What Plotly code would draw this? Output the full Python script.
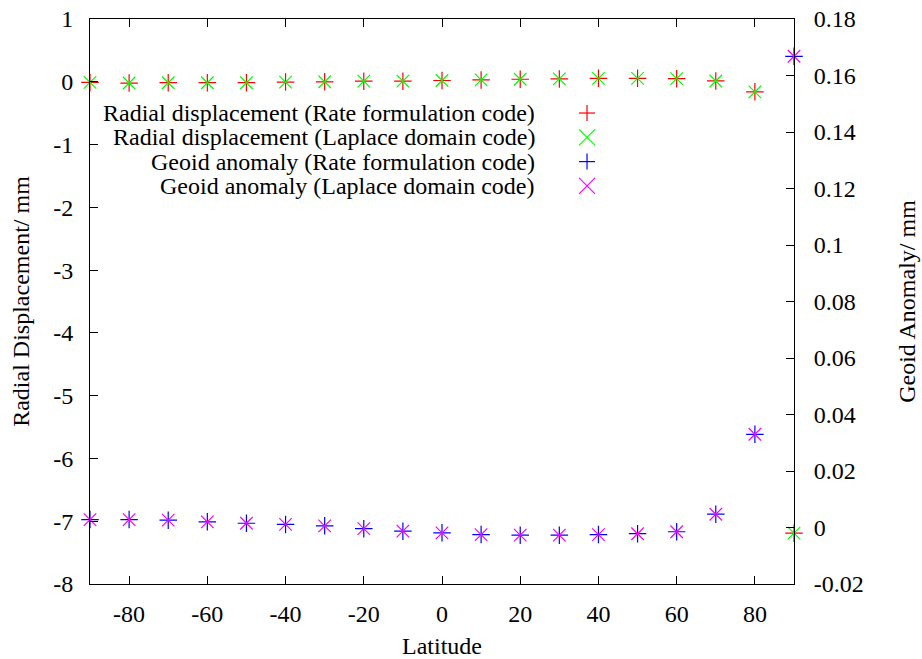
import plotly.graph_objects as go

# Latitude of each sample (degrees)
latitude = [-90, -80, -70, -60, -50, -40, -30, -20, -10, 0,
            10, 20, 30, 40, 50, 60, 70, 80, 90]

# Radial displacement (mm), left axis
radial_rate = [-0.01, -0.02, -0.015, -0.015, -0.015, -0.005, 0.0, 0.01, 0.01, 0.02,
               0.03, 0.04, 0.045, 0.055, 0.055, 0.05, 0.013, -0.16, -7.19]
radial_laplace = [-0.01, -0.02, -0.015, -0.015, -0.015, -0.005, 0.0, 0.01, 0.01, 0.02,
                  0.03, 0.04, 0.045, 0.055, 0.055, 0.05, 0.013, -0.16, -7.19]

# Geoid anomaly (mm), right axis
geoid_rate = [0.0028, 0.0028, 0.0026, 0.0020, 0.0015, 0.0011, 0.0006, -0.0004, -0.0013, -0.0019,
              -0.0025, -0.0027, -0.0027, -0.0025, -0.0022, -0.0015, 0.0047, 0.033, 0.1668]
geoid_laplace = [0.0028, 0.0028, 0.0026, 0.0020, 0.0015, 0.0011, 0.0006, -0.0004, -0.0013, -0.0019,
                 -0.0025, -0.0027, -0.0027, -0.0025, -0.0022, -0.0015, 0.0047, 0.033, 0.1668]

# Tick labels
x_ticks = [-80, -60, -40, -20, 0, 20, 40, 60, 80]
x_labels = ["-80", "-60", "-40", "-20", "0", "20", "40", "60", "80"]
y_ticks = [1, 0, -1, -2, -3, -4, -5, -6, -7, -8]
y_labels = ["1", "0", "-1", "-2", "-3", "-4", "-5", "-6", "-7", "-8"]
y2_ticks = [0.18, 0.16, 0.14, 0.12, 0.1, 0.08, 0.06, 0.04, 0.02, 0, -0.02]
y2_labels = ["0.18", "0.16", "0.14", "0.12", "0.1", "0.08", "0.06", "0.04", "0.02", "0", "-0.02"]

series_names = [
    "Radial displacement (Rate formulation code)",
    "Radial displacement (Laplace domain code)",
    "Geoid anomaly (Rate formulation code)",
    "Geoid anomaly (Laplace domain code)",
]
series_colors = ["#ff0000", "#00ff00", "#0000ff", "#ff00ff"]
series_symbols = ["cross-thin", "x-thin", "cross-thin", "x-thin"]
series_values = [radial_rate, radial_laplace, geoid_rate, geoid_laplace]
series_axes = ["y", "y", "y2", "y2"]

FONT = "Liberation Serif"
FS = 24

fig = go.Figure()
for name, col, sym, vals, ax in zip(series_names, series_colors, series_symbols,
                                    series_values, series_axes):
    fig.add_trace(go.Scatter(
        x=latitude, y=vals, yaxis=ax, mode="markers", name=name,
        showlegend=False, cliponaxis=False,
        marker=dict(symbol=sym, size=12.5, color=col,
                    line=dict(color=col, width=1.2)),
    ))

# Key: right-aligned text followed by a sample symbol
key_rows = [0.8336, 0.7906, 0.7476, 0.7046]
key_text_x = 0.633
key_sym_x = 0.706
half = 8
for name, col, sym, ry in zip(series_names, series_colors, series_symbols, key_rows):
    fig.add_annotation(x=key_text_x, y=ry, xref="paper", yref="paper",
                       text=name, showarrow=False, xanchor="right", yanchor="middle",
                       borderpad=0,
                       font=dict(family=FONT, size=FS, color="black"))
    if sym == "cross-thin":
        segs = [(-half, 0, half, 0), (0, -half, 0, half)]
    else:
        segs = [(-half, -half, half, half), (-half, half, half, -half)]
    for x0, y0, x1, y1 in segs:
        fig.add_shape(type="line", xref="paper", yref="paper",
                      xsizemode="pixel", ysizemode="pixel",
                      xanchor=key_sym_x, yanchor=ry,
                      x0=x0, y0=y0, x1=x1, y1=y1,
                      line=dict(color=col, width=1.2))

axis_common = dict(showgrid=False, zeroline=False, showline=True, linecolor="black",
                   linewidth=1, ticks="inside", ticklen=8, tickwidth=1, tickcolor="black",
                   tickfont=dict(family=FONT, size=FS, color="black"))

fig.update_layout(
    width=922, height=659,
    margin=dict(l=90, r=128, t=19, b=75, autoexpand=False),
    plot_bgcolor="white", paper_bgcolor="white",
    font=dict(family=FONT, size=FS, color="black"),
    xaxis=dict(range=[-90, 90], tickvals=x_ticks, ticktext=x_labels, mirror="ticks",
               title=dict(text="Latitude", font=dict(family=FONT, size=FS), standoff=11),
               ticklabelstandoff=8, automargin=False, **axis_common),
    yaxis=dict(range=[-8, 1], tickvals=y_ticks, ticktext=y_labels,
               title=dict(text="Radial Displacement/ mm", font=dict(family=FONT, size=FS), standoff=16),
               ticklabelstandoff=11, automargin=False, **axis_common),
    yaxis2=dict(range=[-0.02, 0.18], tickvals=y2_ticks, ticktext=y2_labels,
                overlaying="y", side="right", anchor="x",
                title=dict(text="Geoid Anomaly/ mm", font=dict(family=FONT, size=FS), standoff=35),
                ticklabelstandoff=14, automargin=False, **axis_common),
)

fig.write_html("out.html")
